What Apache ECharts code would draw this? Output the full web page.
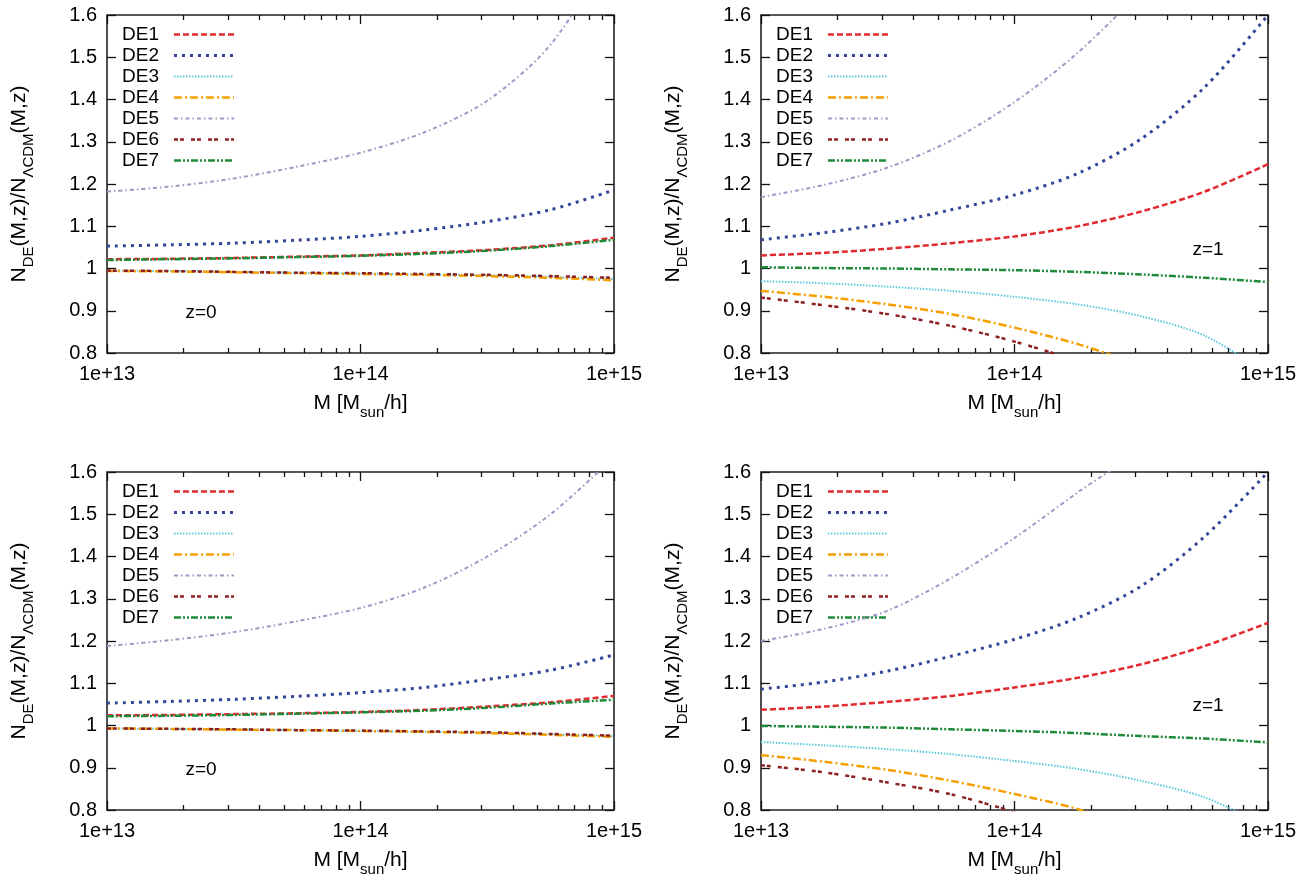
<!DOCTYPE html>
<html><head><meta charset="utf-8">
<script src="https://cdn.jsdelivr.net/npm/echarts@6/dist/echarts.min.js"></script>
<style>html,body{margin:0;padding:0;background:#fff}#c{width:1311px;height:875px}</style>
</head><body><div id="c"></div>
<script>
// ---- data ----
const massExp = [13, 13.25, 13.5, 13.75, 14, 14.25, 14.5, 14.75, 15]; // log10(M)
const xMajorTicks = [13, 14, 15];
const xTickLabels = ['1e+13', '1e+14', '1e+15'];
const seriesNames = ['DE1', 'DE2', 'DE3', 'DE4', 'DE5', 'DE6', 'DE7'];
const panelLabels = ['z=0', 'z=1', 'z=0', 'z=1'];

// Panel A (top-left, z=0)
const pA_DE1 = [1.022, 1.023, 1.025, 1.028, 1.031, 1.037, 1.044, 1.055, 1.073];
const pA_DE2 = [1.053, 1.056, 1.060, 1.067, 1.076, 1.091, 1.111, 1.139, 1.186];
const pA_DE3 = [0.995, 0.994, 0.992, 0.990, 0.988, 0.986, 0.984, 0.980, 0.975];
const pA_DE4 = [0.994, 0.993, 0.991, 0.989, 0.987, 0.985, 0.982, 0.978, 0.972];
const pA_DE5 = [1.182, 1.194, 1.213, 1.241, 1.274, 1.322, 1.397, 1.530, 1.760];
const pA_DE6 = [0.995, 0.994, 0.992, 0.990, 0.989, 0.987, 0.985, 0.982, 0.978];
const pA_DE7 = [1.020, 1.022, 1.024, 1.027, 1.030, 1.035, 1.042, 1.053, 1.068];

// Panel B (top-right, z=1)
const pB_DE1 = [1.031, 1.037, 1.047, 1.060, 1.076, 1.100, 1.135, 1.182, 1.247];
const pB_DE2 = [1.068, 1.085, 1.107, 1.139, 1.174, 1.225, 1.307, 1.429, 1.600];
const pB_DE3 = [0.970, 0.965, 0.957, 0.947, 0.933, 0.915, 0.887, 0.841, 0.750];
const pB_DE4 = [0.947, 0.933, 0.915, 0.892, 0.860, 0.821, 0.770, 0.710, 0.640];
const pB_DE5 = [1.169, 1.198, 1.239, 1.303, 1.394, 1.511, 1.660, 1.850, 2.100];
const pB_DE6 = [0.931, 0.913, 0.892, 0.864, 0.827, 0.780, 0.720, 0.660, 0.590];
const pB_DE7 = [1.003, 1.001, 1.000, 0.998, 0.996, 0.992, 0.986, 0.978, 0.968];

// Panel C (bottom-left, z=0)
const pC_DE1 = [1.024, 1.025, 1.027, 1.029, 1.032, 1.037, 1.045, 1.055, 1.070];
const pC_DE2 = [1.053, 1.057, 1.062, 1.069, 1.078, 1.090, 1.109, 1.131, 1.167];
const pC_DE3 = [0.993, 0.992, 0.991, 0.989, 0.987, 0.985, 0.983, 0.979, 0.975];
const pC_DE4 = [0.993, 0.992, 0.990, 0.989, 0.987, 0.985, 0.982, 0.978, 0.973];
const pC_DE5 = [1.188, 1.202, 1.221, 1.247, 1.278, 1.326, 1.400, 1.500, 1.635];
const pC_DE6 = [0.993, 0.992, 0.991, 0.989, 0.988, 0.986, 0.984, 0.980, 0.976];
const pC_DE7 = [1.022, 1.023, 1.025, 1.028, 1.031, 1.035, 1.042, 1.052, 1.061];

// Panel D (bottom-right, z=1)
const pD_DE1 = [1.037, 1.045, 1.056, 1.070, 1.090, 1.113, 1.145, 1.188, 1.243];
const pD_DE2 = [1.086, 1.103, 1.129, 1.164, 1.204, 1.255, 1.330, 1.447, 1.600];
const pD_DE3 = [0.961, 0.953, 0.944, 0.932, 0.916, 0.897, 0.869, 0.830, 0.760];
const pD_DE4 = [0.930, 0.914, 0.895, 0.869, 0.838, 0.802, 0.750, 0.690, 0.620];
const pD_DE5 = [1.200, 1.229, 1.272, 1.349, 1.444, 1.552, 1.660, 1.850, 2.100];
const pD_DE6 = [0.906, 0.889, 0.865, 0.837, 0.795, 0.745, 0.680, 0.610, 0.540];
const pD_DE7 = [0.999, 0.997, 0.995, 0.991, 0.987, 0.982, 0.975, 0.969, 0.960];

const panels = [
  [pA_DE1, pA_DE2, pA_DE3, pA_DE4, pA_DE5, pA_DE6, pA_DE7],
  [pB_DE1, pB_DE2, pB_DE3, pB_DE4, pB_DE5, pB_DE6, pB_DE7],
  [pC_DE1, pC_DE2, pC_DE3, pC_DE4, pC_DE5, pC_DE6, pC_DE7],
  [pD_DE1, pD_DE2, pD_DE3, pD_DE4, pD_DE5, pD_DE6, pD_DE7]
];

// ---- styles ----
const FONT = '"Liberation Sans", Arial, Helvetica, sans-serif';
const colors = ['#e02a2f', '#34459a', '#5cc8dc', '#f5a000', '#9e98c6', '#8c1f1f', '#1f8a3a'];
const dashes = [[6, 3], [3, 5], [1.5, 1.5], [8, 3, 2, 3], [4, 3, 1.5, 3], [4, 2, 4, 7], [7, 2, 2, 2, 2, 2]];
const widths = [2.5, 3, 2, 2.5, 2, 2.5, 2.5];
const gridPos = [
  { left: 107, top: 15 }, { left: 761, top: 15 },
  { left: 107, top: 472 }, { left: 761, top: 472 }
];
const GW = 507, GH = 338;
const labelPos = [[201, 313], [1208, 250], [201, 770], [1208, 706]];

const minorTicks = [];
[13, 14].forEach(d => { for (let k = 2; k <= 9; k++) minorTicks.push(d + Math.log10(k)); });

const richName = {
  a: { fontSize: 21, fontFamily: FONT, color: '#000', lineHeight: 22, verticalAlign: 'top' },
  s: { fontSize: 15, fontFamily: FONT, color: '#000', lineHeight: 15, padding: [12, 0, 0, 0], verticalAlign: 'top' }
};

const grid = [], xAxis = [], yAxis = [], series = [], legend = [], graphic = [];
const tickLine = { color: '#111', width: 1.3 };

gridPos.forEach((g, gi) => {
  grid.push({ left: g.left, top: g.top, width: GW, height: GH, show: true, borderColor: '#222', borderWidth: 1.6, outerBoundsMode: 'none', containLabel: false });
  const base = { type: 'value', gridIndex: gi, min: 13, max: 15, axisLine: { show: false }, splitLine: { show: false } };
  xAxis.push(Object.assign({}, base, {
    position: 'bottom',
    axisTick: { show: true, inside: true, length: 9, customValues: xMajorTicks, lineStyle: tickLine },
    axisLabel: { show: true, customValues: xMajorTicks, margin: 11, fontSize: 20, fontFamily: FONT, color: '#000',
      formatter: v => xTickLabels[xMajorTicks.indexOf(Math.round(v))] },
    name: '{a|M [M}{s|sun}{a|/h]}', nameLocation: 'middle', nameGap: 40, nameTextStyle: { rich: richName }
  }));
  xAxis.push(Object.assign({}, base, {
    position: 'bottom',
    axisTick: { show: true, inside: true, length: 5, customValues: minorTicks, lineStyle: tickLine },
    axisLabel: { show: false }
  }));
  xAxis.push(Object.assign({}, base, {
    position: 'top',
    axisTick: { show: true, inside: true, length: 9, customValues: xMajorTicks, lineStyle: tickLine },
    axisLabel: { show: false }
  }));
  xAxis.push(Object.assign({}, base, {
    position: 'top',
    axisTick: { show: true, inside: true, length: 5, customValues: minorTicks, lineStyle: tickLine },
    axisLabel: { show: false }
  }));
  const ybase = { type: 'value', gridIndex: gi, min: 0.8, max: 1.6, interval: 0.1, axisLine: { show: false }, splitLine: { show: false } };
  yAxis.push(Object.assign({}, ybase, {
    position: 'left',
    axisTick: { show: true, inside: true, length: 9, lineStyle: tickLine },
    axisLabel: { show: true, margin: 10, fontSize: 20, fontFamily: FONT, color: '#000', formatter: v => String(+(+v).toFixed(1)) },
    name: '{a|N}{s|DE}{a|(M,z)/N}{s|ΛCDM}{a|(M,z)}', nameLocation: 'middle', nameRotate: 90, nameGap: 76,
    nameTextStyle: { rich: richName }
  }));
  yAxis.push(Object.assign({}, ybase, {
    position: 'right',
    axisTick: { show: true, inside: true, length: 9, lineStyle: tickLine },
    axisLabel: { show: false }
  }));

  panels[gi].forEach((vals, si) => {
    series.push({
      type: 'line', name: seriesNames[si], xAxisIndex: gi * 4, yAxisIndex: gi * 2,
      data: massExp.map((x, i) => [x, vals[i]]),
      symbol: 'none', smooth: 0.3, clip: true, silent: true, animation: false,
      lineStyle: { color: colors[si], width: widths[si], type: dashes[si], cap: 'butt' },
      itemStyle: { color: colors[si] }, z: 2 + si
    });
  });

  legend.push({
    data: seriesNames.map((n, si) => ({ name: n, lineStyle: { width: widths[si], type: dashes[si], color: colors[si] } })),
    orient: 'vertical', align: 'right', left: g.left + 10, top: g.top + 4,
    itemWidth: 60, itemHeight: 12, itemGap: 0, selectedMode: false,
    itemStyle: { opacity: 0, color: 'rgba(0,0,0,0)', borderWidth: 0 },
    textStyle: { fontSize: 19, fontFamily: FONT, color: '#000', lineHeight: 21, padding: [0, 10, 0, 0] }
  });

  graphic.push({
    type: 'text', x: labelPos[gi][0], y: labelPos[gi][1], silent: true,
    style: { text: panelLabels[gi], fontSize: 19, fontFamily: FONT, fill: '#000', align: 'center', verticalAlign: 'middle' }
  });
});

const chart = echarts.init(document.getElementById('c'), null, { renderer: 'canvas' });
chart.setOption({ backgroundColor: '#fff', animation: false, grid, xAxis, yAxis, series, legend, graphic });
</script></body></html>
